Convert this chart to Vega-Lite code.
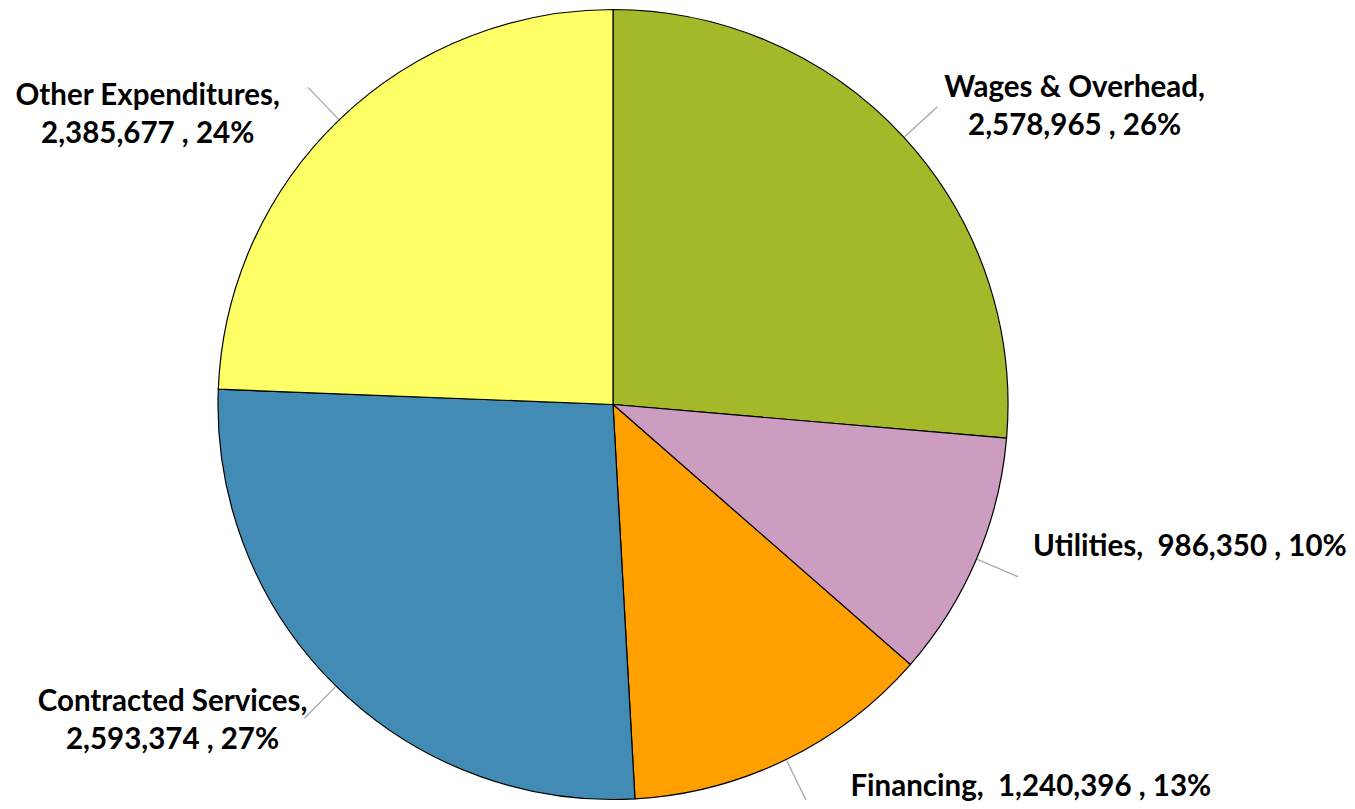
{
  "$schema": "https://vega.github.io/schema/vega-lite/v6.json",
  "autosize": {"type": "none"},
  "width": 1226,
  "height": 809,
  "padding": {"left": 0, "right": 129, "top": 0, "bottom": 0},
  "background": "white",
  "view": {"stroke": null},
  "data": {
    "values": [
      {"order": 1, "category": "Wages & Overhead", "value": 2578965, "label": "Wages & Overhead,|2,578,965 , 26%"},
      {"order": 2, "category": "Utilities", "value": 986350, "label": "Utilities,\u00a0 986,350 , 10%"},
      {"order": 3, "category": "Financing", "value": 1240396, "label": "Financing,\u00a0 1,240,396 , 13%"},
      {"order": 4, "category": "Contracted Services", "value": 2593374, "label": "Contracted Services,|2,593,374 , 27%"},
      {"order": 5, "category": "Other Expenditures", "value": 2385677, "label": "Other Expenditures,|2,385,677 , 24%"}
    ]
  },
  "transform": [
    {"window": [{"op": "sum", "field": "value", "as": "end"}], "sort": [{"field": "order"}], "frame": [null, 0]},
    {"joinaggregate": [{"op": "sum", "field": "value", "as": "total"}]},
    {"calculate": "datum.end - datum.value", "as": "start"},
    {"calculate": "datum.end - datum.value / 2", "as": "mid"},
    {"calculate": "datum.mid - datum.total * 0.00025", "as": "lead0"},
    {"calculate": "datum.mid + datum.total * 0.00025", "as": "lead1"}
  ],
  "layer": [
    {
      "mark": {"type": "arc", "outerRadius": 395, "stroke": "#000000", "strokeWidth": 1.2},
      "encoding": {
        "theta": {"field": "end", "type": "quantitative", "scale": {"zero": true}},
        "theta2": {"field": "start"},
        "color": {
          "field": "category",
          "type": "nominal",
          "legend": null,
          "scale": {
            "domain": ["Wages & Overhead", "Utilities", "Financing", "Contracted Services", "Other Expenditures"],
            "range": ["#A5B82A", "#CC9DC0", "#FF9F00", "#428BB4", "#FFFF66"]
          }
        }
      }
    },
    {
      "mark": {"type": "arc", "outerRadius": 440, "innerRadius": 396, "fill": "#A6A6A6", "stroke": null},
      "encoding": {
        "theta": {"field": "lead0", "type": "quantitative"},
        "theta2": {"field": "lead1"}
      }
    },
    {
      "transform": [{"filter": "datum.category == 'Wages & Overhead'"}],
      "mark": {"type": "text", "radius": 400, "dx": 167, "dy": -46, "align": "center", "baseline": "middle", "lineBreak": "|", "lineHeight": 38, "font": "Lato", "fontWeight": "bold", "fontSize": 29.5, "color": "#000000"},
      "encoding": {"theta": {"field": "mid", "type": "quantitative", "stack": null}, "text": {"field": "label"}}
    },
    {
      "transform": [{"filter": "datum.category == 'Utilities'"}],
      "mark": {"type": "text", "radius": 400, "dx": 52, "dy": -14, "align": "left", "baseline": "middle", "font": "Lato", "fontWeight": "bold", "fontSize": 29.5, "color": "#000000"},
      "encoding": {"theta": {"field": "mid", "type": "quantitative", "stack": null}, "text": {"field": "label"}}
    },
    {
      "transform": [{"filter": "datum.category == 'Financing'"}],
      "mark": {"type": "text", "radius": 400, "dx": 62, "dy": 23, "align": "left", "baseline": "middle", "font": "Lato", "fontWeight": "bold", "fontSize": 29.5, "color": "#000000"},
      "encoding": {"theta": {"field": "mid", "type": "quantitative", "stack": null}, "text": {"field": "label"}}
    },
    {
      "transform": [{"filter": "datum.category == 'Contracted Services'"}],
      "mark": {"type": "text", "radius": 400, "dx": -160, "dy": 12, "align": "center", "baseline": "middle", "lineBreak": "|", "lineHeight": 38, "font": "Lato", "fontWeight": "bold", "fontSize": 29.5, "color": "#000000"},
      "encoding": {"theta": {"field": "mid", "type": "quantitative", "stack": null}, "text": {"field": "label"}}
    },
    {
      "transform": [{"filter": "datum.category == 'Other Expenditures'"}],
      "mark": {"type": "text", "radius": 400, "dx": -188, "dy": -20, "align": "center", "baseline": "middle", "lineBreak": "|", "lineHeight": 38, "font": "Lato", "fontWeight": "bold", "fontSize": 29.5, "color": "#000000"},
      "encoding": {"theta": {"field": "mid", "type": "quantitative", "stack": null}, "text": {"field": "label"}}
    }
  ]
}
